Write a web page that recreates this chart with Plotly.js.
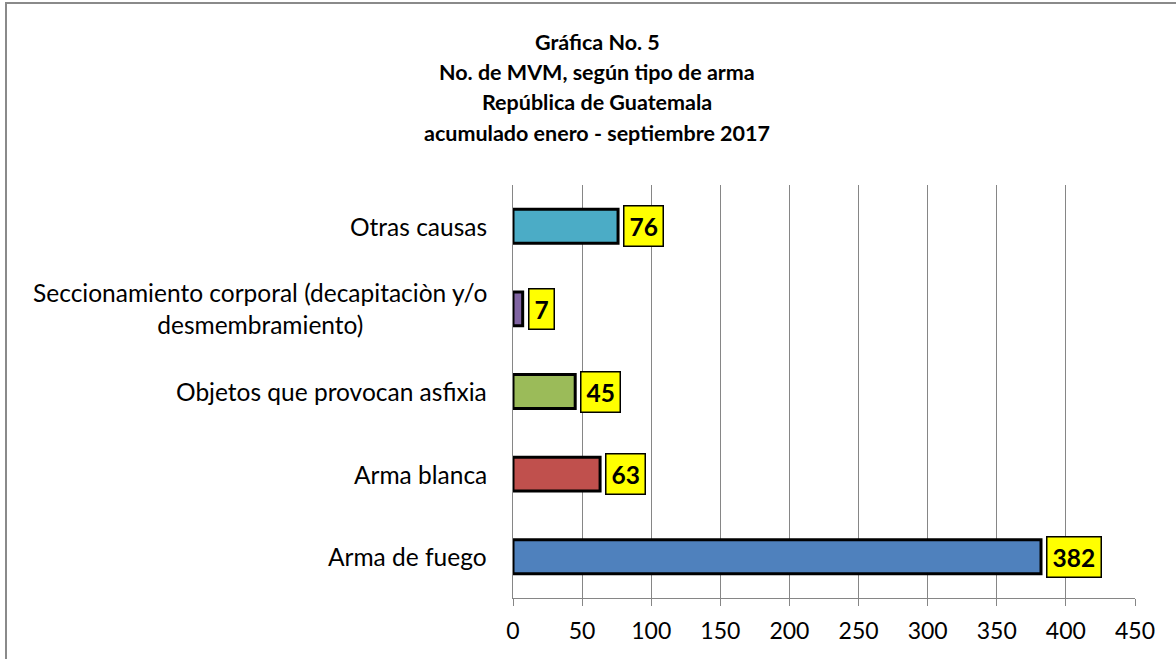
<!DOCTYPE html>
<html>
<head>
<meta charset="utf-8">
<script src="https://cdn.plot.ly/plotly-3.0.1.min.js"></script>
<style>
  body { margin: 0; background: #fff; }
  #wrap { position: relative; width: 1176px; height: 659px; overflow: hidden; }
  #chart { width: 1176px; height: 659px; }
  #frame { position: absolute; left: 5px; top: 2px; width: 1200px; height: 700px;
           border-left: 2px solid #8a8a8a; border-top: 2px solid #8a8a8a; pointer-events: none; }
</style>
</head>
<body>
<div id="wrap">
  <div id="chart"></div>
  <div id="frame"></div>
</div>
<script>
// categories from bottom to top, as the chart shows them
var categorias = ["Arma de fuego", "Arma blanca", "Objetos que provocan asfixia",
                  "Seccionamiento corporal (decapitaciòn y/o<br>desmembramiento)", "Otras causas"];
var valores = [382, 63, 45, 7, 76];
var colores = ["#4F81BD", "#C0504D", "#9BBB59", "#8064A2", "#4BACC6"];
var ticksX = [0, 50, 100, 150, 200, 250, 300, 350, 400, 450];
var titulo = ["Gráfica No. 5", "No. de MVM, según tipo de arma",
              "República de Guatemala", "acumulado enero - septiembre 2017"];

var fuente = "Lato, 'Liberation Sans', sans-serif";

var trace = {
    type: "bar",
    orientation: "h",
    x: valores,
    y: categorias,
    marker: { color: colores, line: { color: "#000", width: 3 } },
    hoverinfo: "none"
};

var notas = [];
// yellow value boxes + category labels (centred multi-line text)
for (var i = 0; i < valores.length; i++) {
    notas.push({
        x: valores[i], y: categorias[i], xref: "x", yref: "y",
        text: "<b>" + valores[i] + "</b>",
        showarrow: false, xanchor: "left", xshift: 5,
        bgcolor: "#FFFF00", bordercolor: "#000", borderwidth: 1.5, borderpad: 5,
        font: { family: fuente, size: 24.5, color: "#000" }
    });
    notas.push({
        x: 0, y: categorias[i], xref: "paper", yref: "y",
        text: categorias[i],
        showarrow: false, xanchor: "right", xshift: -24, align: "center",
        font: { family: fuente, size: 24.5, color: "#000" }
    });
}
// title lines, 30px apart, centred at x=597
var plotTop = 185, plotH = 659 - 185 - 61;
var lineasY = [42, 72, 102, 133];
for (var k = 0; k < titulo.length; k++) {
    notas.push({
        x: (597 - 513) / (1176 - 513 - 41), xref: "paper",
        y: (plotTop + plotH - lineasY[k]) / plotH, yref: "paper",
        text: "<b>" + titulo[k] + "</b>",
        showarrow: false, xanchor: "center", yanchor: "middle",
        font: { family: fuente, size: 21.5, color: "#000" }
    });
}

var layout = {
    width: 1176,
    height: 659,
    paper_bgcolor: "#fff",
    plot_bgcolor: "#fff",
    margin: { l: 513, r: 41, t: 185, b: 61 },
    bargap: 0.59,
    showlegend: false,
    font: { family: fuente, size: 20, color: "#000" },
    xaxis: {
        range: [0, 450],
        tickvals: ticksX,
        ticktext: ticksX.map(String),
        showgrid: true, gridcolor: "#868686", gridwidth: 1,
        showline: true, linecolor: "#868686", linewidth: 1,
        ticks: "outside", ticklen: 7, tickcolor: "#868686",
        ticklabelstandoff: 5,
        tickfont: { family: fuente, size: 23, color: "#000" },
        zeroline: false, fixedrange: true
    },
    yaxis: {
        type: "category",
        categoryorder: "array",
        categoryarray: categorias,
        showticklabels: false,
        showline: true, linecolor: "#868686", linewidth: 1,
        ticks: "", showgrid: false, zeroline: false, fixedrange: true
    },
    annotations: notas
};

Plotly.newPlot("chart", [trace], layout, { displayModeBar: false, staticPlot: true });
</script>
</body>
</html>
